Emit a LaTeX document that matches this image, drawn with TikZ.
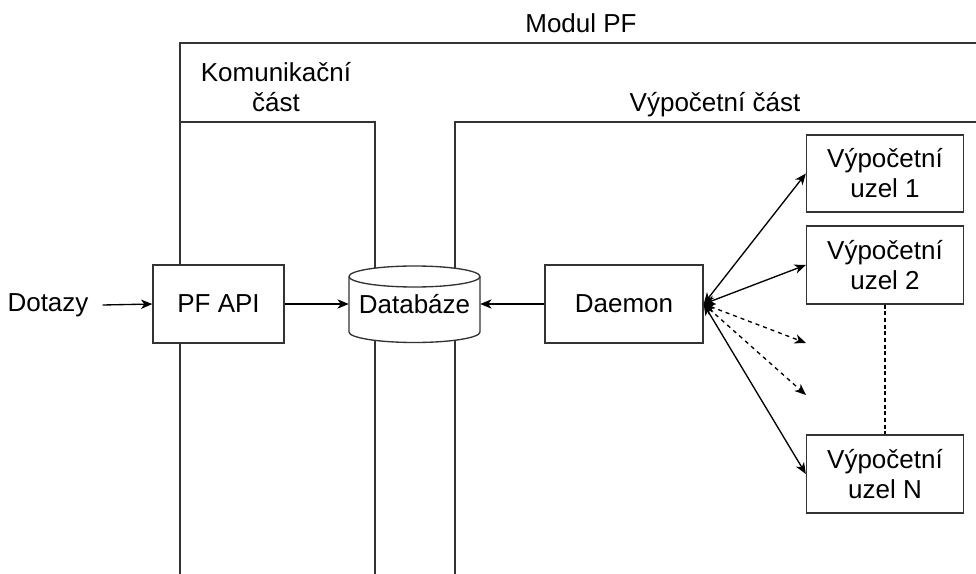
\documentclass[tikz,border=0pt]{standalone}
\usepackage{fontspec}
\setmainfont{Liberation Sans}
\usetikzlibrary{arrows.meta}
\begin{document}
\begin{tikzpicture}[x=0.75pt,y=-0.75pt,
  every node/.style={font=\fontsize{19.5}{22.5}\selectfont, inner sep=0pt, align=center},
  frame/.style={line width=1pt, draw=black!80},
  boxnode/.style={draw, fill=white, line width=1pt, draw=black!80},
  conn/.style={line width=1pt, -{Stealth[length=8.5pt,width=7pt,inset=2.5pt]}},
  biconn/.style={line width=1pt, {Stealth[length=8.5pt,width=7pt,inset=2.5pt]}-{Stealth[length=8.5pt,width=7pt,inset=2.5pt]}},
  dotline/.style={line width=0.8pt, dash pattern=on 3pt off 2pt}
]
\useasboundingbox (0,0) rectangle (976,574);
% frames
\draw[frame] (180,574) -- (180,43) -- (976,43);
\draw[frame] (180,122) -- (375,122) -- (375,574);
\draw[frame] (455,574) -- (455,122) -- (976,122);
% titles
\node[anchor=base] (tmodul) at (581,33) {Modul PF};
\node[anchor=base] (tkom1) at (276,82) {Komunikační};
\node[anchor=base] (tkom2) at (276,112) {část};
\node[anchor=base] (tvyp) at (715,112) {Výpočetní část};
% nodes
\node (dotazy) at (48,305) {Dotazy};
\node[boxnode, minimum width=131*0.75pt, minimum height=78*0.75pt] (api) at (218.5,304) {PF API};
% cylinder
\draw[line width=1pt, draw=black!80, fill=white]
  (349,276.5) -- (349,332) arc[start angle=180, end angle=0, x radius=65.5, y radius=10.5]
  -- (480,276.5) arc[start angle=0, end angle=-180, x radius=65.5, y radius=10.5] -- cycle;
\draw[line width=1pt, draw=black!80]
  (349,276.5) arc[start angle=180, end angle=0, x radius=65.5, y radius=10.5];
\node[minimum width=131*0.75pt, minimum height=77*0.75pt] (db) at (414.5,304) {Databáze};
\node[boxnode, minimum width=158*0.75pt, minimum height=78*0.75pt] (daemon) at (624,304) {Daemon};
\node[boxnode, minimum width=157*0.75pt, minimum height=77*0.75pt] (u1) at (885,173.5) {Výpočetní\\uzel 1};
\node[boxnode, minimum width=157*0.75pt, minimum height=78*0.75pt] (u2) at (885,265) {Výpočetní\\uzel 2};
\node[boxnode, minimum width=157*0.75pt, minimum height=78*0.75pt] (un) at (885,474) {Výpočetní\\uzel N};
\coordinate (d1) at (806,343);
\coordinate (d2) at (806,395);
% connectors
\draw[conn] (dotazy.east) ++(14,0) -- (api.west);
\draw[conn] (api.east) -- (db.west);
\draw[conn] (daemon.west) -- (db.east);
\draw[biconn] (daemon.east) -- (u1.west);
\draw[biconn] (daemon.east) -- (u2.west);
\draw[biconn, dashed] (daemon.east) -- (d1);
\draw[biconn, dashed] (daemon.east) -- (d2);
\draw[biconn] (daemon.east) -- (un.west);
\draw[dotline] (u2.south) -- (un.north);
\end{tikzpicture}
\end{document}
